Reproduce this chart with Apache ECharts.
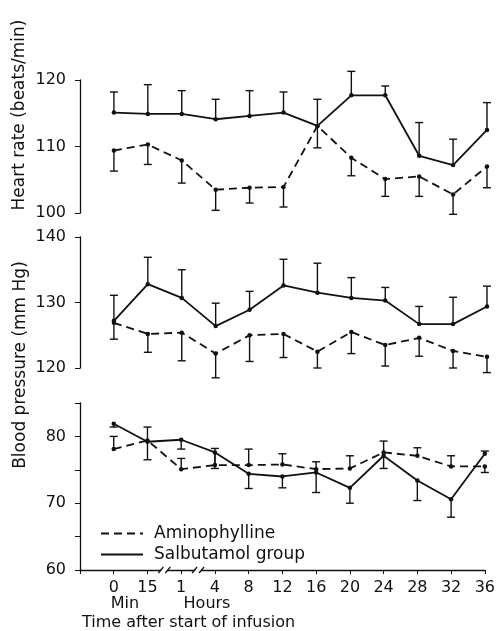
<!DOCTYPE html>
<html>
<head>
<meta charset="utf-8">
<script src="https://cdn.jsdelivr.net/npm/echarts@6/dist/echarts.min.js"></script>
<style>
  html, body { margin: 0; padding: 0; background: #fff; }
  #chart { width: 498px; height: 631px; }
</style>
</head>
<body>
<div id="chart"></div>
<script>
// time points (min then hours)
var xLabels = ['0', '15', '1', '4', '8', '12', '16', '20', '24', '28', '32', '36'];

// heart rate (beats/min)
var hrSalb = [115.1, 114.9, 114.9, 114.1, 114.6, 115.1, 113.1, 117.7, 117.7, 108.6, 107.2, 112.5];
var hrSalbErr = [118.2, 119.3, 118.4, 117.1, 118.4, 118.2, 117.1, 121.3, 119.1, 113.6, 111.1, 116.6];
var hrAmin = [109.4, 110.3, 107.9, 103.5, 103.8, 103.9, 113.1, 108.3, 105.1, 105.5, 102.8, 107.0];
var hrAminErr = [106.3, 107.3, 104.5, 100.4, 101.5, 100.9, 109.8, 105.6, 102.5, 102.5, 99.8, 103.8];

// systolic blood pressure (mm Hg)
var sbpSalb = [127.2, 132.8, 130.7, 126.4, 128.9, 132.6, 131.5, 130.7, 130.3, 126.7, 126.7, 129.4];
var sbpSalbErr = [131.1, 136.9, 135.0, 129.9, 131.7, 136.6, 136.0, 133.8, 132.3, 129.4, 130.8, 132.5];
var sbpAmin = [126.9, 125.2, 125.4, 122.2, 125.0, 125.2, 122.5, 125.5, 123.5, 124.6, 122.6, 121.7];
var sbpAminErr = [124.4, 122.4, 121.1, 118.5, 121.0, 121.6, 120.0, 122.2, 120.3, 121.8, 120.0, 119.3];

// diastolic blood pressure (mm Hg)
var dbpSalb = [81.9, 79.2, 79.5, 77.6, 74.4, 74.0, 74.6, 72.3, 77.1, 73.4, 70.6, 77.4];
var dbpSalbErr = [81.4, 76.5, 78.1, 75.2, 72.2, 72.3, 71.6, 70.0, 75.2, 70.4, 67.9, 77.8];
var dbpAmin = [78.1, 79.4, 75.1, 75.7, 75.7, 75.8, 75.1, 75.2, 77.6, 77.1, 75.5, 75.5];
var dbpAminErr = [80.0, 81.4, 76.7, 78.2, 78.1, 77.4, 76.2, 77.1, 79.3, 78.3, 77.1, 74.6];

// where the time axis is broken
var axisBreaks = [1.5, 2.5];

var FONT = 'DejaVu Sans';
var INK = '#111';

function pts(vals) {
    return vals.map(function (v, i) { return [i, v]; });
}

function lineSeries(name, vals, idx, dashed) {
    return {
        name: name,
        type: 'line',
        xAxisIndex: idx,
        yAxisIndex: idx,
        data: pts(vals),
        symbol: 'circle',
        symbolSize: 4.5,
        itemStyle: { color: INK },
        lineStyle: { color: INK, width: 1.8, type: dashed ? [8, 5] : 'solid' },
        z: 3
    };
}

function errSeries(vals, ends, idx) {
    return {
        type: 'custom',
        xAxisIndex: idx,
        yAxisIndex: idx,
        data: vals.map(function (v, i) { return [i, v, ends[i]]; }),
        encode: { x: 0, y: [1, 2] },
        renderItem: function (params, api) {
            var a = api.coord([api.value(0), api.value(1)]);
            var b = api.coord([api.value(0), api.value(2)]);
            var st = { stroke: INK, lineWidth: 1.4 };
            return {
                type: 'group',
                children: [
                    { type: 'line', shape: { x1: a[0], y1: a[1], x2: b[0], y2: b[1] }, style: st },
                    { type: 'line', shape: { x1: b[0] - 4, y1: b[1], x2: b[0] + 4, y2: b[1] }, style: st }
                ]
            };
        },
        z: 2
    };
}

function xAxisDef(idx, visible) {
    return {
        type: 'value',
        gridIndex: idx,
        min: -1,
        max: 11,
        interval: 1,
        show: visible,
        axisLine: { show: visible, onZero: false, lineStyle: { color: INK, width: 1.3 } },
        axisTick: { show: visible, length: 4, lineStyle: { color: INK } },
        splitLine: { show: false },
        axisLabel: {
            show: visible,
            margin: 10,
            color: INK,
            fontFamily: FONT,
            fontSize: 16,
            formatter: function (v) { return v >= 0 ? xLabels[v] : ''; }
        }
    };
}

function yAxisDef(idx, min, max, step, labelStep) {
    return {
        type: 'value',
        gridIndex: idx,
        min: min,
        max: max,
        interval: step,
        axisLine: { show: true, onZero: false, lineStyle: { color: INK, width: 1.3 } },
        axisTick: { show: true, length: 5, lineStyle: { color: INK } },
        splitLine: { show: false },
        axisLabel: {
            color: INK,
            fontFamily: FONT,
            fontSize: 16,
            margin: 14,
            formatter: function (v) { return v % labelStep === 0 ? String(v) : ''; }
        }
    };
}

var chart = echarts.init(document.getElementById('chart'));

var option = {
    backgroundColor: '#fff',
    animation: false,
    grid: [
        { left: 80, top: 80, width: 407, height: 133 },
        { left: 80, top: 237, width: 407, height: 131 },
        { left: 80, top: 403, width: 407, height: 167 }
    ],
    xAxis: [xAxisDef(0, false), xAxisDef(1, false), xAxisDef(2, true)],
    yAxis: [
        yAxisDef(0, 100, 120, 10, 10),
        yAxisDef(1, 120, 140, 10, 10),
        yAxisDef(2, 60, 85, 5, 10)
    ],
    legend: {
        orient: 'vertical',
        left: 95,
        top: 520,
        itemWidth: 42,
        itemHeight: 12,
        itemGap: 4,
        data: ['Aminophylline', 'Salbutamol group'],
        itemStyle: { opacity: 0 },
        textStyle: { color: INK, fontFamily: FONT, fontSize: 17, padding: [0, 0, 0, 6] }
    },
    graphic: [
        { type: 'text', x: 20, y: 115, rotation: Math.PI / 2,
          style: { text: 'Heart rate (beats/min)', fill: INK, font: '17px "DejaVu Sans"', align: 'center', verticalAlign: 'middle' } },
        { type: 'text', x: 21, y: 365, rotation: Math.PI / 2,
          style: { text: 'Blood pressure (mm Hg)', fill: INK, font: '17px "DejaVu Sans"', align: 'center', verticalAlign: 'middle' } },
        { type: 'text', x: 125, y: 604,
          style: { text: 'Min', fill: INK, font: '16px "DejaVu Sans"', align: 'center', verticalAlign: 'middle' } },
        { type: 'text', x: 207, y: 604,
          style: { text: 'Hours', fill: INK, font: '16px "DejaVu Sans"', align: 'center', verticalAlign: 'middle' } },
        { type: 'text', x: 82, y: 623,
          style: { text: 'Time after start of infusion', fill: INK, font: '16px "DejaVu Sans"', align: 'left', verticalAlign: 'middle' } }
    ],
    series: [
        lineSeries('Aminophylline', hrAmin, 0, true),
        lineSeries('Salbutamol group', hrSalb, 0, false),
        errSeries(hrAmin, hrAminErr, 0),
        errSeries(hrSalb, hrSalbErr, 0),

        lineSeries('Aminophylline', sbpAmin, 1, true),
        lineSeries('Salbutamol group', sbpSalb, 1, false),
        errSeries(sbpAmin, sbpAminErr, 1),
        errSeries(sbpSalb, sbpSalbErr, 1),

        lineSeries('Aminophylline', dbpAmin, 2, true),
        lineSeries('Salbutamol group', dbpSalb, 2, false),
        errSeries(dbpAmin, dbpAminErr, 2),
        errSeries(dbpSalb, dbpSalbErr, 2),

        {
            type: 'custom',
            xAxisIndex: 2,
            yAxisIndex: 2,
            silent: true,
            data: axisBreaks.map(function (b) { return [b, 60]; }),
            renderItem: function (params, api) {
                var p = api.coord([api.value(0), api.value(1)]);
                var st = { stroke: INK, lineWidth: 1.3 };
                return {
                    type: 'group',
                    children: [
                        { type: 'rect', shape: { x: p[0] - 3, y: p[1] - 2, width: 6, height: 4 }, style: { fill: '#fff' } },
                        { type: 'line', shape: { x1: p[0] - 6, y1: p[1] + 3, x2: p[0] - 1, y2: p[1] - 3 }, style: st },
                        { type: 'line', shape: { x1: p[0] + 1, y1: p[1] + 3, x2: p[0] + 6, y2: p[1] - 3 }, style: st }
                    ]
                };
            },
            z: 5
        }
    ]
};

chart.setOption(option);
</script>
</body>
</html>
